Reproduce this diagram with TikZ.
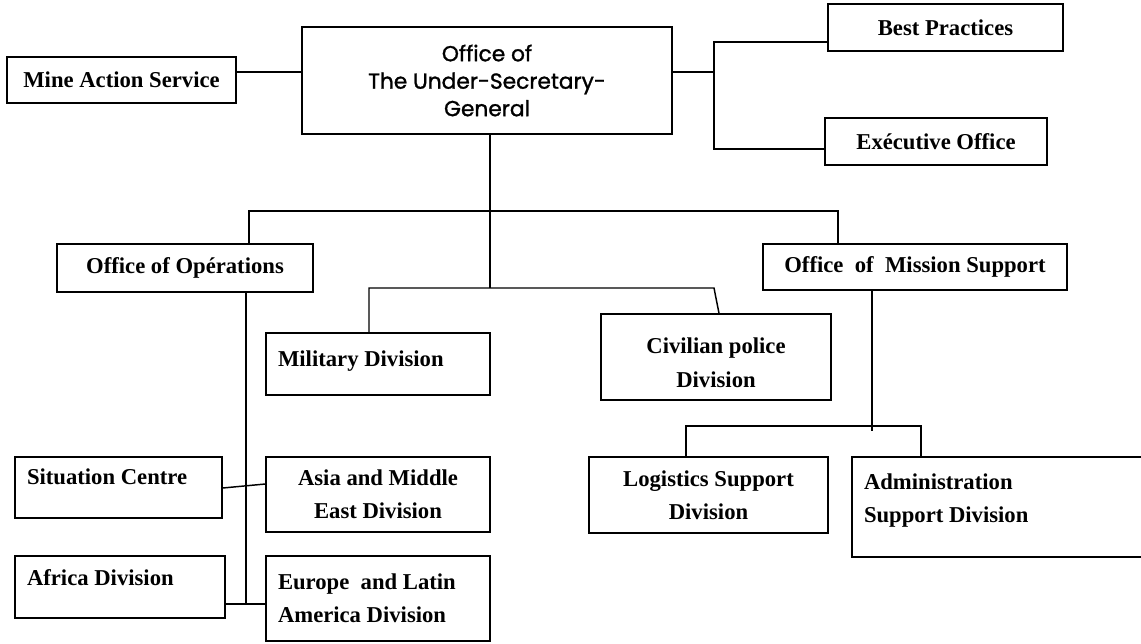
\documentclass[tikz,border=0pt]{standalone}
\usepackage{fontspec}
\setmainfont{Liberation Serif}
\newfontfamily\gothicfont{Poppins}[FakeBold=1.3]
\usetikzlibrary{positioning, calc}
\newcommand{\boxfont}{\fontsize{17}{25}\selectfont\bfseries}
\tikzset{
  unit/.style={
    draw,
    line width=1.1pt,
    inner sep=0pt,
    align=center,
    font=\boxfont
  },
  size/.style 2 args={minimum width=#1*0.75pt, minimum height=#2*0.75pt},
  lefttext/.style={align=flush left, text width=#1*0.75pt},
  link/.style={line width=1.1pt}
}

\begin{document}
\begin{tikzpicture}[x=0.75pt, y=-0.75pt]
  \useasboundingbox (0,0) rectangle (1141,643);

  % top level
  \node[unit, size={370}{107}, font=\gothicfont\fontsize{16.3}{20.6}\selectfont] (usg) at (487,80.5)
    {Office of\\The Under-Secretary-\\General};
  \node[unit, size={229}{46}] (mas) at (121.5,80) {Mine Action Service};
  \node[unit, size={235}{47}] (best) at (945.5,27.5) {Best Practices};
  \node[unit, size={222}{47}] (exec) at (936,141.5) {Exécutive Office};

  % offices and divisions
  \node[unit, size={256}{48}] (ops) at (185,268) {Office of Opérations};
  \node[unit, size={304}{46}] (oms) at (915,267) {Office\ \ of\ \ Mission Support};
  \node[unit, size={224}{62}, lefttext=200, text depth=8pt] (mil) at (378,364) {Military Division};
  \node[unit, size={230}{86}, text height=45pt, text depth=0pt] (civ) at (716,357) {Civilian police\\Division};

  \node[unit, size={239}{76}] (log) at (708.5,495) {Logistics Support\\Division};
  \node[unit, size={290}{100}, lefttext=266, text depth=38pt] (adm) at (997,507)
    {Administration\\Support Division};

  \node[unit, size={207}{61}, lefttext=183, text depth=16pt] (sit) at (118.5,487.5) {Situation Centre};
  \node[unit, size={224}{75}] (asia) at (378,494.5) {Asia and Middle\\East Division};
  \node[unit, size={210}{62}, lefttext=186, text depth=14pt] (afr) at (120,587) {Africa Division};
  \node[unit, size={224}{85}, lefttext=200] (eur) at (378,598.5) {Europe\ \ and Latin\\America Division};

  % links
  \draw[link] (mas.east |- 0,72) -- (usg.west |- 0,72);
  \coordinate (rfork) at (714,72);
  \draw[link] (usg.east |- rfork) -- (rfork);
  \draw[link] (best.west |- 0,42) -| (rfork) |- (exec.west |- 0,149);

  \coordinate (top) at (490,211);
  \coordinate (mid) at (490,288);
  \draw[link] (usg.south -| top) -- (mid);
  \draw[link] (ops.north -| 249,0) |- (top) -| (oms.north -| 838,0);
  \draw[link] (mil.north -| 369,0) |- (mid) -- (714,288) -- (civ.north -| 719,0);

  \coordinate (opsend) at (246,604);
  \draw[link] (ops.south -| opsend) -- (opsend);
  \draw[link] (sit.east |- 0,488) -- (asia.west |- 0,484);
  \draw[link] (afr.east |- opsend) -- (eur.west |- opsend);

  \coordinate (omsend) at (872,431);
  \draw[link] (oms.south -| omsend) -- (omsend);
  \draw[link] (log.north -| 686,0) |- (921,426) -- (adm.north -| 921,0);
\end{tikzpicture}
\end{document}
